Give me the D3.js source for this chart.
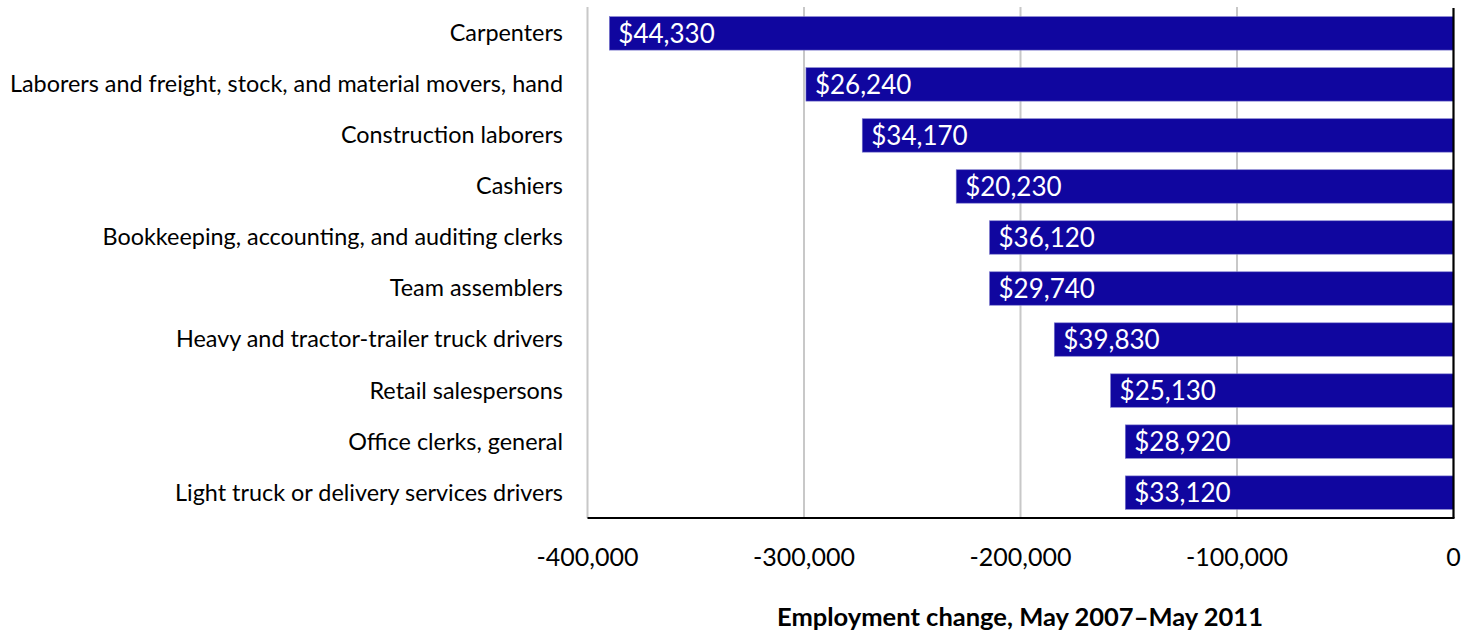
<!DOCTYPE html>
<html>
<head>
<meta charset="utf-8">
<script src="https://cdn.jsdelivr.net/npm/d3@7"></script>
<style>
  html, body { margin: 0; padding: 0; background: #fff; }
  svg { display: block; }
  text { font-family: Lato, "Open Sans", sans-serif; }
</style>
</head>
<body>
<svg id="chart" width="1476" height="630"></svg>
<script>
const categories = [
  "Carpenters",
  "Laborers and freight, stock, and material movers, hand",
  "Construction laborers",
  "Cashiers",
  "Bookkeeping, accounting, and auditing clerks",
  "Team assemblers",
  "Heavy and tractor-trailer truck drivers",
  "Retail salespersons",
  "Office clerks, general",
  "Light truck or delivery services drivers"
];
const employmentChange = [-389900, -299100, -273100, -229700, -214300, -214300, -184400, -158400, -151600, -151600];
const wageLabels = ["$44,330", "$26,240", "$34,170", "$20,230", "$36,120", "$29,740", "$39,830", "$25,130", "$28,920", "$33,120"];
const xTicks = [-400000, -300000, -200000, -100000, 0];
const xTitle = "Employment change, May 2007\u2013May 2011";

(function () {
const svg = d3.select("#chart");
const pLeft = 587.5, pRight = 1453.5, pTop = 8, pBottom = 518;

const x = d3.scaleLinear().domain([-400000, 0]).range([pLeft, pRight]);
const y = d3.scaleBand().domain(categories).range([pTop, pBottom]).paddingInner(0.345).paddingOuter(0.17);

// gridlines
svg.append("g").selectAll("line").data(xTicks.slice(0, -1)).join("line")
  .attr("x1", d => x(d)).attr("x2", d => x(d))
  .attr("y1", pTop - 1).attr("y2", pBottom)
  .attr("stroke", "#c8c8c8").attr("stroke-width", 2);

// bars
svg.append("g").selectAll("rect").data(categories).join("rect")
  .attr("x", (d, i) => x(employmentChange[i]))
  .attr("y", d => y(d))
  .attr("width", (d, i) => x(0) - x(employmentChange[i]))
  .attr("height", y.bandwidth())
  .attr("fill", "#10069f")
  .attr("stroke", "#7b78cc").attr("stroke-width", 0.6);

// value labels
svg.append("g").selectAll("text").data(categories).join("text")
  .attr("x", (d, i) => x(employmentChange[i]) + 9)
  .attr("y", d => y(d) + y.bandwidth() / 2)
  .attr("dy", "0.36em")
  .attr("fill", "#fff")
  .attr("font-size", 26)
  .text((d, i) => wageLabels[i]);

// category labels
svg.append("g").selectAll("text").data(categories).join("text")
  .attr("x", 563)
  .attr("y", d => y(d) + y.bandwidth() / 2)
  .attr("dy", "0.34em")
  .attr("text-anchor", "end")
  .attr("fill", "#000")
  .attr("font-size", 23.4)
  .text(d => d);

// axis lines
svg.append("line").attr("x1", pLeft).attr("x2", pRight + 1).attr("y1", pBottom).attr("y2", pBottom)
  .attr("stroke", "#000").attr("stroke-width", 2.2);
svg.append("line").attr("x1", x(0)).attr("x2", x(0)).attr("y1", pTop).attr("y2", pBottom)
  .attr("stroke", "#000").attr("stroke-width", 2.2);

// x tick labels
const fmt = d3.format(",");
svg.append("g").selectAll("text").data(xTicks).join("text")
  .attr("x", d => x(d))
  .attr("y", 566)
  .attr("text-anchor", "middle")
  .attr("fill", "#000")
  .attr("font-size", 25)
  .text(d => d === 0 ? "0" : "-" + fmt(Math.abs(d)));

// x title
svg.append("text")
  .attr("x", 1020).attr("y", 626)
  .attr("text-anchor", "middle")
  .attr("font-weight", "bold")
  .attr("font-size", 25.5)
  .attr("fill", "#000")
  .text(xTitle);
})();
</script>
</body>
</html>
